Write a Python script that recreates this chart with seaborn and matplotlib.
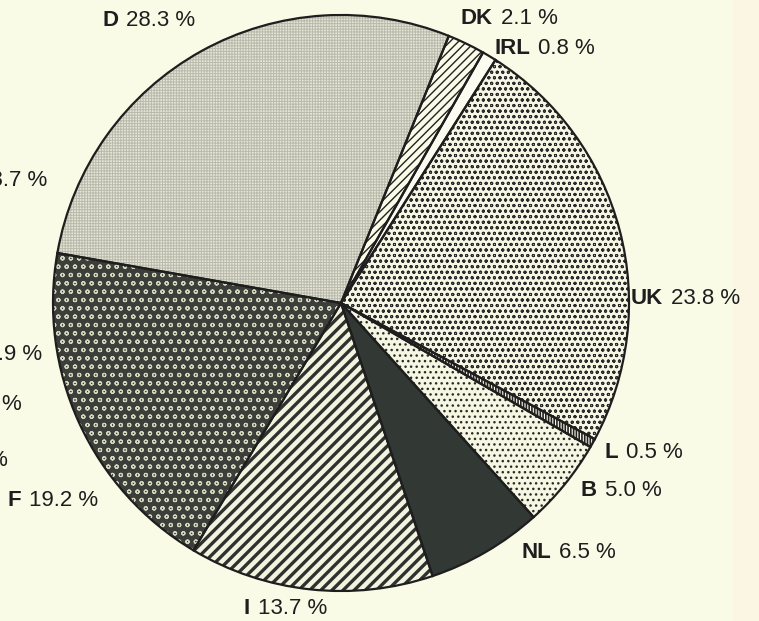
import matplotlib
matplotlib.use("Agg")
import matplotlib.pyplot as plt
import seaborn as sns

# shares of the pie, clockwise from the D slice
countries = ["D", "DK", "IRL", "UK", "L", "B", "NL", "I", "F"]
shares = [28.3, 2.1, 0.8, 23.8, 0.5, 5.0, 6.5, 13.7, 19.2]

# labels of the neighbouring chart, cut off at the left edge of the scan
cut_labels = ["13.7 %", "10.9 %", "5.0 %", "1.0 %"]

# fill style of each slice: face colour, hatch, hatch colour, hatch width
faces = ["#e4e5d5", "#fbfce8", "#fcfdf0", "#f5f6e4", "#fbfce8",
         "#f6f7e2", "#323934", "#f3f4e0", "#3c3e3a"]
hatches = ["++++++", "////", "", "ooo", "||||||", "...", "", "///", "oo"]
hatch_cols = ["#b9baac", "#222222", "#fcfdf0", "#2a2a2a", "#222222",
              "#2a2a2a", "#323934", "#2f312e", "#d4d6c0"]
hatch_lw = [0.7, 1.0, 1.0, 0.7, 1.2, 1.0, 1.0, 2.4, 0.8]

# label anchors in pixels (x where bold code ends, y of text centre)
label_pos = [(118, 20), (493, 18), (530, 48), (663, 299), (618, 452),
             (597, 490), (551, 552), (250, 608), (21, 501)]
cut_pos = [(47, 180), (42, 355), (22, 405), (8, 460)]

sns.set_theme(style="white")
plt.rcParams["font.family"] = ["Liberation Sans", "DejaVu Sans"]
plt.rcParams["hatch.linewidth"] = 1.0

W, H = 759, 621
bg = "#fafbe6"
fig = plt.figure(figsize=(W / 100, H / 100), dpi=100, facecolor=bg)
ax = fig.add_axes([0, 0, 1, 1])
ax.set_facecolor(bg)

center = (341, H - 303)
radius = 288

# filled wedges with textures
wedges, _ = ax.pie(shares, startangle=170, counterclock=False,
                   center=center, radius=radius, colors=faces,
                   wedgeprops=dict(linewidth=0))
for w, h, hc, hl in zip(wedges, hatches, hatch_cols, hatch_lw):
    w.set_hatch(h)
    w.set_edgecolor(hc)
    w.set_linewidth(0)
    if hasattr(w, "set_hatch_linewidth"):
        w.set_hatch_linewidth(hl)

# outlines on top
ax.pie(shares, startangle=170, counterclock=False, center=center,
       radius=radius, colors=["none"] * len(shares),
       wedgeprops=dict(linewidth=1.6, edgecolor="#1e1e1e", fill=False))

# slightly warmer strip on the right edge of the scan
ax.axvspan(733, W, color="#fbf5e4", zorder=-1, lw=0)

for code, val, (x, y) in zip(countries, shares, label_pos):
    ax.text(x, H - y, code, ha="right", va="center", fontsize=16,
            fontweight="bold", color="#1e1e1e")
    ax.text(x + 8, H - y, f"{val:.1f} %", ha="left", va="center",
            fontsize=16, color="#1e1e1e")

for txt, (x, y) in zip(cut_labels, cut_pos):
    ax.text(x, H - y, txt, ha="right", va="center", fontsize=16,
            color="#1e1e1e")

ax.set_xlim(0, W)
ax.set_ylim(0, H)
ax.set_aspect("equal")
ax.axis("off")

fig.savefig("out.png", dpi=100, facecolor=bg)
